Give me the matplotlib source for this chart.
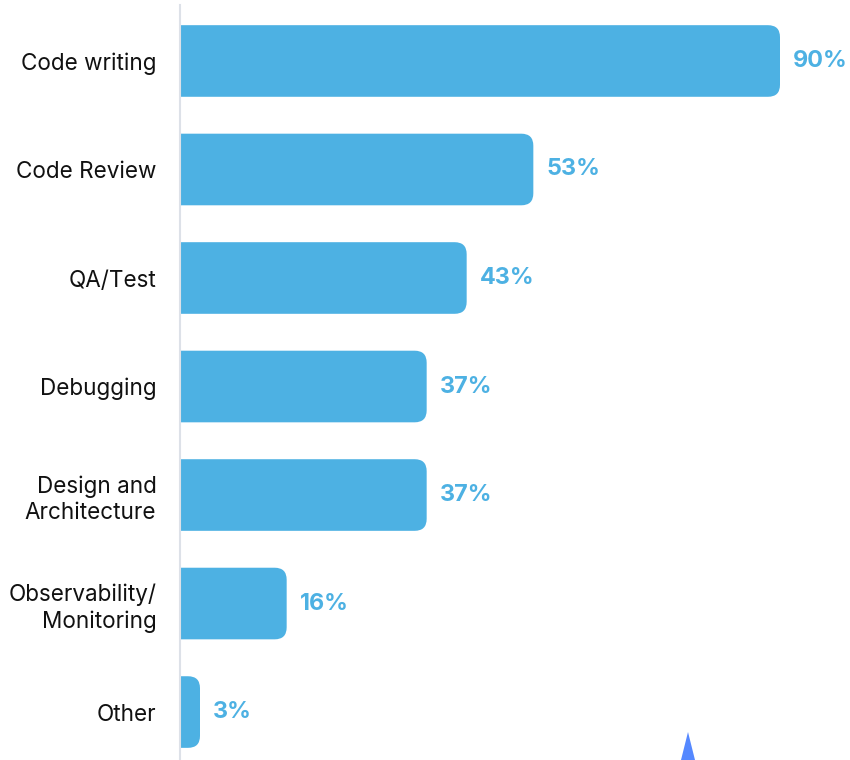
import matplotlib
matplotlib.use("Agg")
import matplotlib.pyplot as plt
from matplotlib.patches import FancyBboxPatch, Polygon

# data
categories = ["Code writing", "Code Review", "QA/Test", "Debugging",
              "Design and\nArchitecture", "Observability/\nMonitoring", "Other"]
values = [90, 53, 43, 37, 37, 16, 3]
value_labels = ["90%", "53%", "43%", "37%", "37%", "16%", "3%"]

BAR = "#4DB1E3"
TXT = "#111111"

W, H = 850, 760
fig = plt.figure(figsize=(W / 100, H / 100), dpi=100)
ax = fig.add_axes([180 / W, 0, 1 - 180 / W, 1])

xmax = 670 / (600 / 90)
ymin, ymax = 6.442, -0.562
ax.set_xlim(0, xmax)
ax.set_ylim(ymin, ymax)

# size of one pixel in data units
px_x = xmax / 670
px_y = (ymin - ymax) / H
r = 12 * px_x
h = 0.66

for i, v in enumerate(values):
    # start left of the axes so the left corners get clipped off (square)
    patch = FancyBboxPatch((-3 * r, i - h / 2), v + 3 * r, h,
                           boxstyle="round,pad=0,rounding_size=%f" % r,
                           mutation_aspect=px_y / px_x,
                           fc=BAR, ec="none", zorder=2)
    ax.add_patch(patch)
    ax.text(v + 13 * px_x, i, value_labels[i], color=BAR, fontsize=16.8,
            fontweight="bold", family="Inter", va="center", ha="left")

ax.set_yticks(range(len(categories)))
ax.set_yticklabels(categories, fontsize=16.2, family="Inter", color=TXT,
                   linespacing=1.25)
for lbl in ax.get_yticklabels():
    lbl.set_y(lbl.get_position()[1])
ax.tick_params(axis="y", length=0, pad=17)
ax.set_xticks([])

for s in ["top", "right", "bottom"]:
    ax.spines[s].set_visible(False)
ax.spines["left"].set_color("#dde1e8")
ax.spines["left"].set_linewidth(1.5)
ax.spines["left"].set_bounds(ymin, ymax + 5 * px_y)

# small blue spike at the bottom edge
fig.patches.append(Polygon([[681 / W, 0], [695 / W, 0], [688 / W, 28 / H]],
                           closed=True, fc="#5588ff", ec="none",
                           transform=fig.transFigure, figure=fig))

fig.savefig("out.png", dpi=100)
